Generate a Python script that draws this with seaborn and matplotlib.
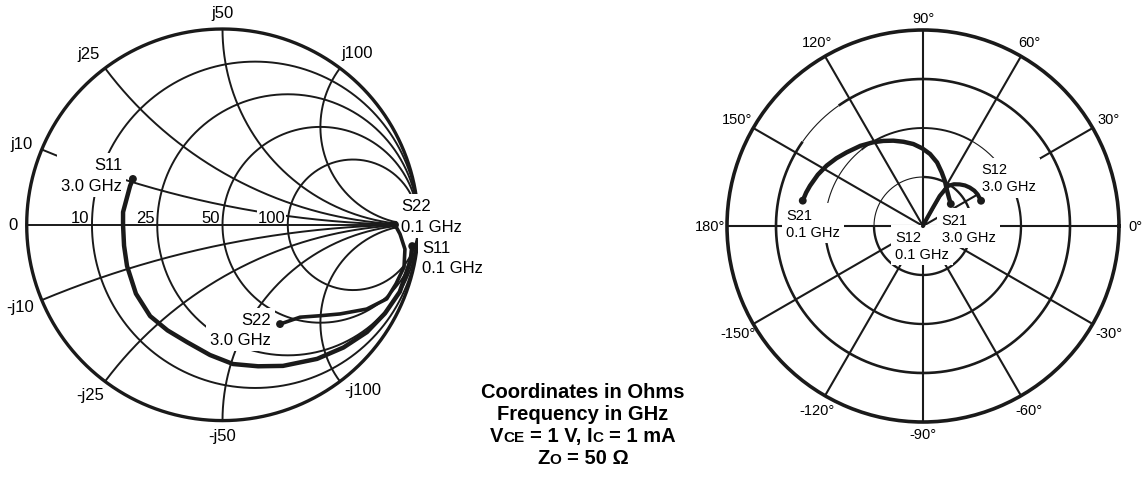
import numpy as np
import matplotlib
matplotlib.use("Agg")
import matplotlib.pyplot as plt
from matplotlib.transforms import IdentityTransform
import seaborn as sns

# ---- values, 0.1 GHz -> 3.0 GHz ----
# Smith chart: reflection coefficient magnitude and angle (deg)
s11_mag = [0.975, 0.978, 0.968, 0.945, 0.919, 0.88, 0.838, 0.784, 0.745, 0.713,
           0.668, 0.626, 0.608, 0.595, 0.565, 0.531, 0.514, 0.508, 0.512, 0.512, 0.514]
s11_ang = [-6.4, -10.5, -20.7, -28.6, -36.6, -45.4, -54.8, -66.8, -75.9, -85.7,
           -95.5, -106.8, -117.5, -128.4, -141.5, -156.7, -168.0, 180.0, 172.7, 157.2, 152.9]
s22_mag = [0.881, 0.908, 0.94, 0.952, 0.936, 0.92, 0.853, 0.753, 0.681, 0.616, 0.586]
s22_ang = [0.0, -3.0, -7.6, -13.1, -18.8, -24.3, -30.3, -37.2, -43.0, -50.0, -59.9]

# polar chart: radius as fraction of the outer ring, angle (deg)
s21_mag = [0.627, 0.62, 0.612, 0.597, 0.58, 0.561, 0.541, 0.519, 0.497, 0.479, 0.461,
           0.441, 0.421, 0.396, 0.369, 0.332, 0.29, 0.255, 0.224, 0.197, 0.181]
s21_ang = [168.1, 164.0, 160.4, 154.0, 147.9, 142.0, 136.0, 128.0, 120.7, 115.0, 109.2,
           103.0, 96.7, 90.5, 84.4, 77.5, 70.8, 64.0, 57.4, 48.0, 38.4]
s12_mag = [0.0, 0.038, 0.107, 0.175, 0.241, 0.265, 0.283, 0.298, 0.309, 0.318, 0.322, 0.323]
s12_ang = [60.0, 63.0, 61.5, 60.9, 58.0, 53.5, 48.6, 44.0, 39.4, 34.5, 30.0, 23.5]

z0 = 50
r_ohms = [10, 25, 50, 100]
x_labels = ['j10', 'j25', 'j50', 'j100', '-j10', '-j25', '-j50', '-j100']
polar_angles = [0, 30, 60, 90, 120, 150, 180, -150, -120, -90, -60, -30]
notes = ['Coordinates in Ohms', 'Frequency in GHz']

# label placement (angle deg, radius) for the reactance labels
x_label_pos = [(158, 1.105), (128, 1.11), (90, 1.085), (52, 1.115),
               (-158, 1.115), (-128, 1.10), (-90, 1.078), (-49.5, 1.105)]

sns.set_theme(style="white")
plt.rcParams['font.family'] = ['Liberation Sans', 'DejaVu Sans']
plt.rcParams['text.color'] = 'black'

W, H = 1143, 481
fig = plt.figure(figsize=(W / 100, H / 100), dpi=100)
fig.patch.set_facecolor('white')

# ---------------- Smith chart ----------------
cx, cy, R = 222.5, 225.8, 195.8
xl, xr, yb, yt = -1.1, 1.25, -1.15, 1.15
ax = fig.add_axes([(cx + xl * R) / W, (H - (cy - yb * R)) / H,
                   (xr - xl) * R / W, (yt - yb) * R / H])
ax.set_axis_off()

t = np.linspace(0, 2 * np.pi, 721)
ax.plot(np.cos(t), np.sin(t), color='k', lw=2.4, zorder=2.7)
ax.plot([-1, 1], [0, 0], color='k', lw=1.4, zorder=2.7)
for ohm in r_ohms:
    r = ohm / z0
    c, rad = r / (1 + r), 1 / (1 + r)
    ax.plot(c + rad * np.cos(t), rad * np.sin(t), color='k', lw=1.4, zorder=2.7)
rr = np.concatenate([np.linspace(0, 1, 150), np.logspace(0, 3.5, 300)[1:]])
for ohm in r_ohms:
    for sgn in (1, -1):
        g = (rr + 1j * sgn * ohm / z0 - 1) / (rr + 1j * sgn * ohm / z0 + 1)
        ax.plot(np.append(g.real, 1), np.append(g.imag, 0), color='k', lw=1.4, zorder=2)

for ohm in r_ohms:
    r = ohm / z0
    ax.text((r - 1) / (r + 1) - 0.012, 0.016, str(ohm), ha='right', va='baseline',
            fontsize=12, zorder=2.5, bbox=dict(boxstyle='square,pad=0.05', fc='white', ec='none'))
ax.text(-1.071, 0, '0', ha='center', va='center', fontsize=12)
for lab, (a, rl) in zip(x_labels, x_label_pos):
    ax.text(rl * np.cos(np.deg2rad(a)), rl * np.sin(np.deg2rad(a)), lab,
            ha='center', va='center', fontsize=12)

box = dict(boxstyle='square,pad=0.25', fc='white', ec='none')
for txt, gx, gy, ha in [('S11\n3.0 GHz', -0.513, 0.255, 'right'),
                        ('S22\n0.1 GHz', 0.912, 0.045, 'left'),
                        ('S11\n0.1 GHz', 1.019, -0.168, 'left'),
                        ('S22\n3.0 GHz', 0.248, -0.535, 'right')]:
    ax.text(gx, gy, txt, ha=ha, va='center', multialignment=ha, fontsize=12,
            linespacing=1.45, bbox=box, zorder=3)

for mag, ang, lw in [(s11_mag, s11_ang, 3.2), (s22_mag, s22_ang, 2.6)]:
    m = np.array(mag)
    a = np.deg2rad(ang)
    gx, gy = m * np.cos(a), m * np.sin(a)
    sns.lineplot(x=gx, y=gy, sort=False, estimator=None, color='k', lw=lw, ax=ax, zorder=4)
    sns.scatterplot(x=gx[[0, -1]], y=gy[[0, -1]], color='k', s=32, edgecolor='none',
                    ax=ax, zorder=5)
ax.set_xlim(xl, xr)
ax.set_ylim(yb, yt)
ax.set_aspect('auto')
ax.set_axis_off()

# ---------------- polar chart ----------------
pcx, pcy, PR = 923, 227, 196
pax = fig.add_axes([(pcx - PR) / W, (H - pcy - PR) / H, 2 * PR / W, 2 * PR / H],
                   projection='polar')
pax.set_ylim(0, 1)
pax.set_xticks([])
pax.set_yticks([])
pax.grid(False)
pax.spines['polar'].set_linewidth(2.6)
pax.spines['polar'].set_color('k')


def parc(r, a0, a1, lw):
    th = np.deg2rad(np.linspace(a0, a1, 300))
    pax.plot(th, np.full_like(th, r), color='k', lw=lw, zorder=2, solid_capstyle='butt')


parc(0.25, 90, 180, 0.8)
parc(0.25, 180, 450, 1.7)
parc(0.5, 0, 42, 1.6)
parc(0.5, 42, 60, 0.8)
parc(0.5, 60, 129, 1.4)
parc(0.5, 129, 167, 0.8)
parc(0.5, 167, 360, 1.7)
parc(0.75, -215, 125, 1.9)
parc(0.75, 125, 145, 0.8)
for a in polar_angles:
    pax.plot([np.deg2rad(a)] * 2, [0, 1], color='k', lw=1.5, zorder=2)
    th = np.deg2rad(a)
    rl = 1.03 + 0.055 * abs(np.cos(th)) + 0.03 * abs(np.sin(th))
    pax.text(th, rl, f'{a}\u00b0', ha='center', va='center', fontsize=10.5)

pbox = dict(boxstyle='square,pad=0.3', fc='white', ec='none')
for txt, px, py, zo in [('S21\n0.1 GHz', 786, 224.4, 3), ('S12\n3.0 GHz', 981.7, 178.8, 3),
                        ('S12\n0.1 GHz', 895, 246.2, 3), ('S21\n3.0 GHz', 941.7, 229.2, 3.1)]:
    pax.text((px - pcx + PR) / (2 * PR), 1 - (py - pcy + PR) / (2 * PR), txt,
             transform=pax.transAxes, ha='left', va='center', fontsize=10.5,
             linespacing=1.3, bbox=pbox, zorder=zo)

for mag, ang, lw, ends in [(s21_mag, s21_ang, 3.2, [0, -1]), (s12_mag, s12_ang, 3.0, [-1])]:
    th = np.deg2rad(ang)
    m = np.array(mag)
    sns.lineplot(x=th, y=m, sort=False, estimator=None, color='k', lw=lw, ax=pax, zorder=4)
    sns.scatterplot(x=th[ends], y=m[ends], color='k', s=32, edgecolor='none', ax=pax, zorder=5)
pax.set_ylim(0, 1)
pax.set_xticks([])
pax.set_yticks([])
pax.set_xlabel('')
pax.set_ylabel('')

# ---------------- notes ----------------
big, small = 14.5, 11
rend = fig.canvas.get_renderer()


def pieces_line(pieces, xc, ybase):
    sp = fig.text(0, 0, 'V V', fontsize=big, fontweight='bold', transform=IdentityTransform())
    sp2 = fig.text(0, 0, 'VV', fontsize=big, fontweight='bold', transform=IdentityTransform())
    gap = sp.get_window_extent(rend).width - sp2.get_window_extent(rend).width
    sp.remove()
    sp2.remove()
    made = []
    for s, size in pieces:
        made.append(fig.text(0, 0, s, fontsize=size, fontweight='bold', ha='left',
                             va='baseline', transform=IdentityTransform()))
    widths = [m.get_window_extent(rend).width for m in made]
    total = sum(widths) + gap * sum(1 for s, _ in pieces if s.startswith('='))
    x = xc - total / 2
    for (s, _), m, w in zip(pieces, made, widths):
        if s.startswith('='):
            x += gap
        m.set_position((x, H - ybase))
        x += w


for txt, yb_ in zip(notes, [398, 420]):
    fig.text(583 / W, 1 - yb_ / H, txt, ha='center', va='baseline', fontsize=big,
             fontweight='bold')
pieces_line([('V', big), ('CE', small), ('= 1 V, I', big), ('C', small), ('= 1 mA', big)], 583, 442)
pieces_line([('Z', big), ('O', small), ('= 50 \u03a9', big)], 583, 464)

fig.savefig('out.png', dpi=100, facecolor='white')
